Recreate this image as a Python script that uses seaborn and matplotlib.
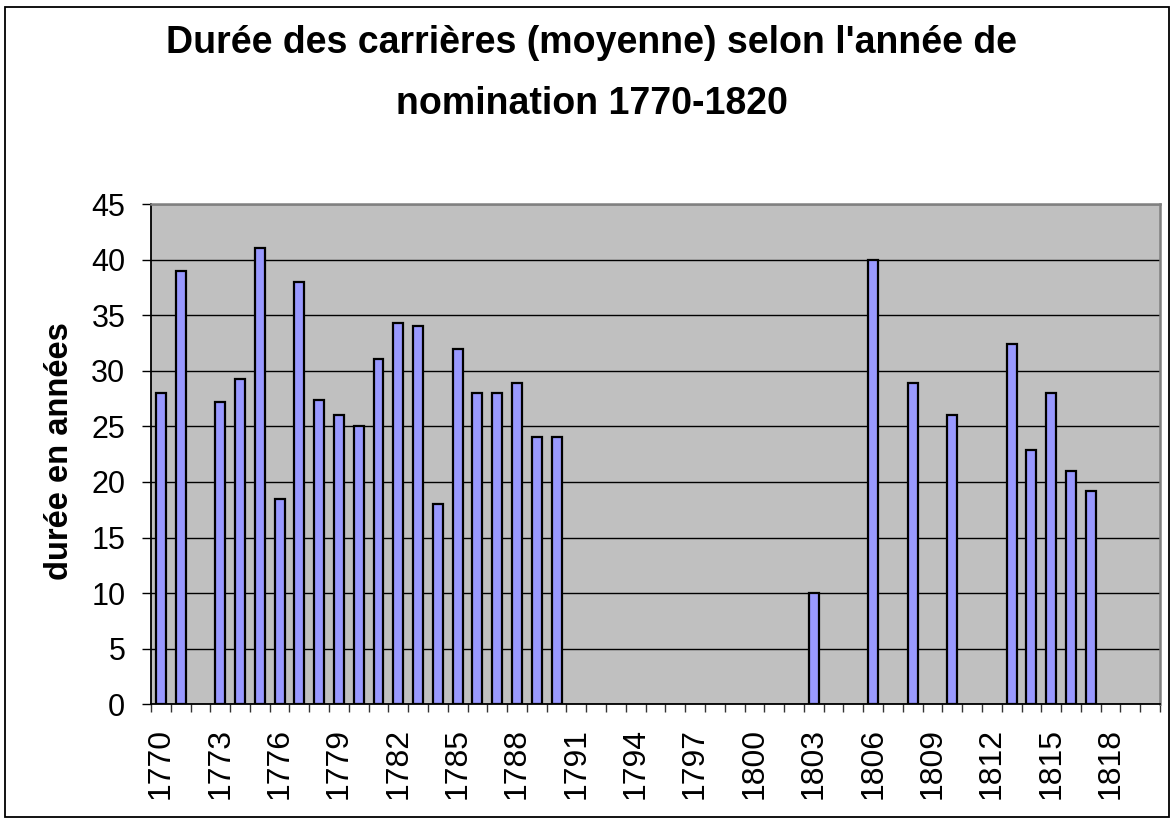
import matplotlib
matplotlib.use("Agg")
import matplotlib.pyplot as plt
import seaborn as sns
import pandas as pd
import numpy as np
from matplotlib.patches import Rectangle

# ---- data ----
years = [1770, 1771, 1773, 1774, 1775, 1776, 1777, 1778, 1779, 1780,
         1781, 1782, 1783, 1784, 1785, 1786, 1787, 1788, 1789, 1790,
         1803, 1806, 1808, 1810, 1813, 1814, 1815, 1816, 1817]
durations = [28, 39, 27.2, 29.3, 41, 18.5, 38, 27.4, 26, 25,
             31.1, 34.3, 34, 18, 32, 28, 28, 28.9, 24, 24,
             10, 40, 28.9, 26, 32.4, 22.9, 28, 21, 19.2]
all_years = [str(y) for y in range(1770, 1821)]
tick_years = [str(y) for y in range(1770, 1820, 3)]
y_ticks = list(range(0, 50, 5))

title_line1 = "Durée des carrières (moyenne) selon l'année de"
title_line2 = "nomination 1770-1820"
y_label = "durée en années"

sns.set_style("white")
plt.rcParams['font.family'] = ['Liberation Sans', 'DejaVu Sans']
plt.rcParams['text.color'] = 'black'
plt.rcParams['xtick.color'] = 'black'
plt.rcParams['ytick.color'] = 'black'
plt.rcParams['axes.labelcolor'] = 'black'

W, H = 1174, 823
fig = plt.figure(figsize=(W / 100, H / 100), dpi=100, facecolor='white')

left, right, top, bottom = 151, 1160, 204, 704.3
ax = fig.add_axes([left / W, (H - bottom) / H, (right - left) / W, (bottom - top) / H])
ax.set_facecolor('#C0C0C0')

df = pd.DataFrame({'annee': [str(y) for y in years], 'duree': durations})
sns.barplot(data=df, x='annee', y='duree', order=all_years, color='#9999FF',
            saturation=1, edgecolor='black', linewidth=1.6, width=0.5, ax=ax)

ax.set_xlim(-0.5, len(all_years) - 0.5)
ax.set_ylim(0, 45)
ax.set_yticks(y_ticks)
ax.set_yticklabels([str(v) for v in y_ticks])
ax.yaxis.grid(True, color='black', linewidth=1.0)
ax.xaxis.grid(False)
ax.set_axisbelow(True)

pos = [all_years.index(t) for t in tick_years]
ax.set_xticks(pos)
ax.set_xticklabels(tick_years, rotation=90)
ax.set_xticks(np.arange(-0.5, len(all_years), 1.0), minor=True)
ax.tick_params(axis='x', which='major', length=0, pad=17, labelsize=23, labelcolor='black')
ax.tick_params(axis='x', which='minor', length=5.5, width=1, color='#333333', direction='out', bottom=True)
ax.tick_params(axis='y', which='major', length=6.5, width=1, color='black', direction='out',
               left=True, pad=12, labelsize=22, labelcolor='black')
ax.set_xlabel('')
ax.set_ylabel('')

for s in ['left', 'bottom']:
    ax.spines[s].set_color('black')
    ax.spines[s].set_linewidth(1.3)
for s in ['top', 'right']:
    ax.spines[s].set_color('#808080')
    ax.spines[s].set_linewidth(1.8)

fig.text(592 / W, 1 - 53.3 / H, title_line1, ha='center', va='baseline',
         fontsize=27, fontweight='bold', color='black')
fig.text(592 / W, 1 - 113.6 / H, title_line2, ha='center', va='baseline',
         fontsize=27, fontweight='bold', color='black')
fig.text(60 / W, 1 - 451 / H, y_label, rotation=90, ha='center', va='center',
         fontsize=23.5, fontweight='bold', color='black')

fig.patches.append(Rectangle((5 / W, 1 - 817 / H), (1169 - 5) / W, (817 - 7) / H,
                             transform=fig.transFigure, fill=False,
                             edgecolor='black', linewidth=1.3))

fig.savefig('out.png', dpi=100, facecolor='white')
